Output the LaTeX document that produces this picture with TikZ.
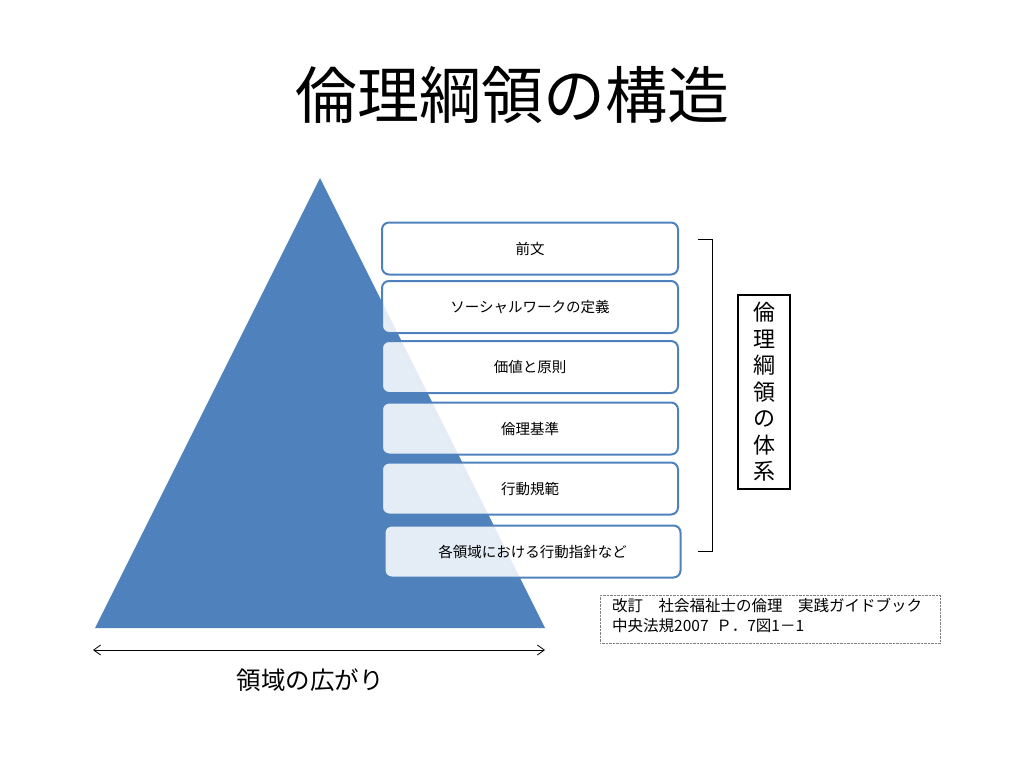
\documentclass[tikz,border=0pt]{standalone}
\usepackage{fontspec}
\usetikzlibrary{arrows.meta}
\setmainfont{Noto Sans CJK JP}
\begin{document}
\begin{tikzpicture}[x=1pt,y=-1pt,
  tier/.style={draw={rgb,255:red,79;green,129;blue,189}, line width=2pt, rounded corners=7pt, fill=white, fill opacity=0.85, text opacity=1, minimum width=296pt, minimum height=52pt, font=\fontsize{14.5}{16}\selectfont, inner sep=0pt}]
\useasboundingbox (0,0) rectangle (1024,768);
\definecolor{tri}{RGB}{79,129,189}
\node[font=\fontsize{62}{70}\selectfont] (title) at (512,95) {倫理綱領の構造};
\fill[tri] (320,178) coordinate (apex) -- (545,628) coordinate (br) -- (95,628) coordinate (bl) -- cycle;
\node[tier] (b1) at (530,248.5) {前文};
\node[tier] (b2) at (530,307) {ソーシャルワークの定義};
\node[tier] (b3) at (530,367) {価値と原則};
\node[tier] (b4) at (530,428.5) {倫理基準};
\node[tier] (b5) at (530,488.5) {行動規範};
\node[tier] (b6) at (532.5,551.5) {各領域における行動指針など};
\draw[line width=0.8pt] (698,239) -- (712,239) -- (712,551) -- (698,551);
\node[draw, line width=1.5pt, minimum width=52pt, minimum height=194pt, align=center, inner sep=0pt, font=\fontsize{22}{26.5}\selectfont] (sys) at (764,392) {倫\\理\\綱\\領\\の\\体\\系};
\coordinate (al) at (93,650); \coordinate (ar) at (545,650);
\draw[{Straight Barb[length=7pt,width=10pt]}-{Straight Barb[length=7pt,width=10pt]}, line width=0.8pt] (al) -- (ar);
\node[font=\fontsize{24.5}{28}\selectfont] (wide) at (310,680) {領域の広がり};
\node[draw=gray, densely dotted, minimum width=340pt, minimum height=48pt, anchor=north west, inner sep=0pt] (cb) at (600,595) {};
\node[anchor=north west, align=left, font=\fontsize{15.5}{20}\selectfont, inner sep=0pt] (cite) at (612,598) {改訂\quad 社会福祉士の倫理\quad 実践ガイドブック\\中央法規2007\enspace Ｐ．7図1－1};
\end{tikzpicture}
\end{document}
